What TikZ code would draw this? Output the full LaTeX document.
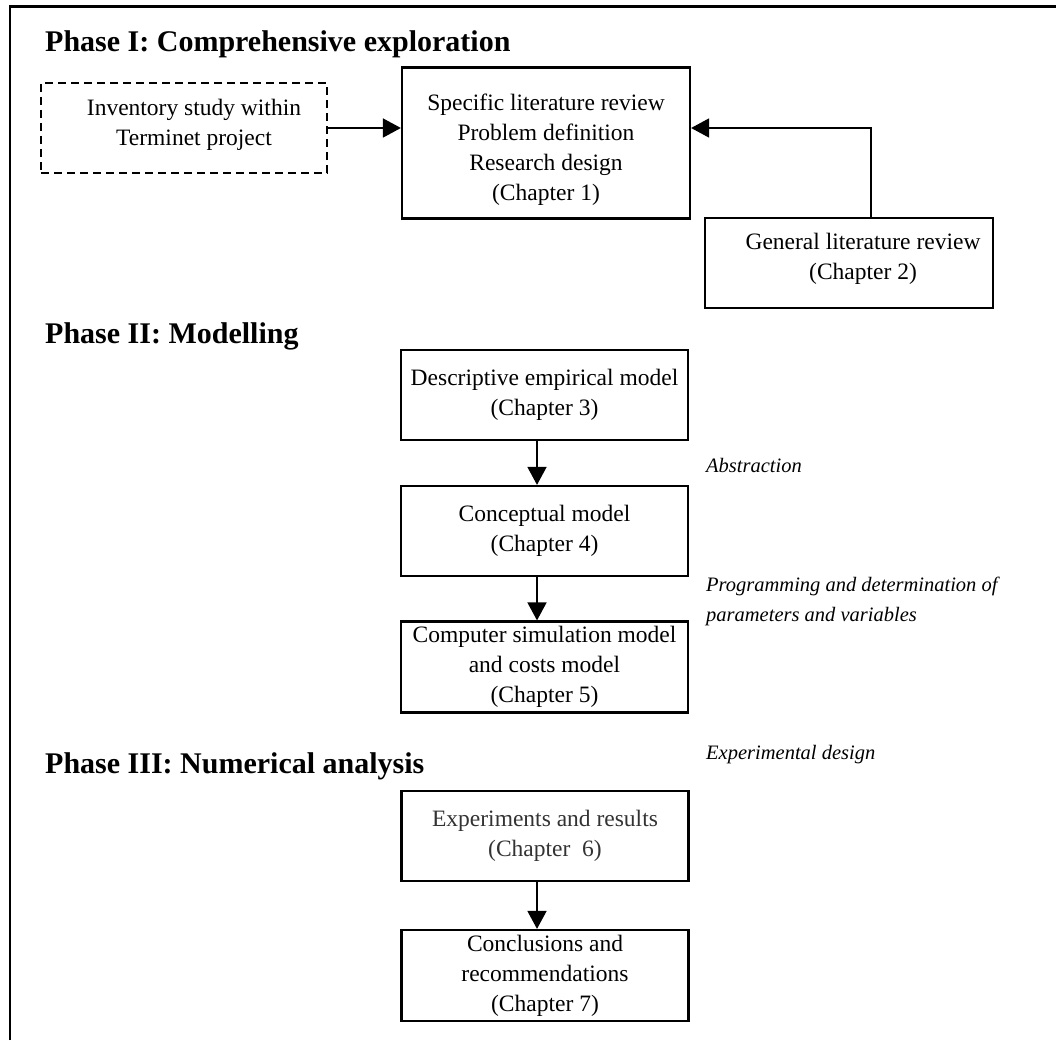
\documentclass[tikz,border=0pt]{standalone}
\usepackage{fontspec}
\setmainfont{Liberation Serif}
\usetikzlibrary{arrows.meta}
\begin{document}
\begin{tikzpicture}[x=1pt,y=-1pt,
  box/.style={draw, line width=2.2pt, minimum width=287pt, minimum height=90pt,
    inner sep=0pt, align=center, font=\fontsize{23.5}{30}\selectfont},
  boxtext/.style={inner sep=0pt, align=center, font=\fontsize{23.5}{30}\selectfont},
  phase/.style={anchor=base west, inner sep=0pt, font=\fontsize{30}{36}\selectfont\bfseries},
  note/.style={anchor=west, inner sep=0pt, align=left, font=\fontsize{20.5}{30}\selectfont\itshape},
  arr/.style={line width=1.6pt, -{Triangle[length=18pt,width=19pt]}},
]
\useasboundingbox (0,0) rectangle (1056,1040);
\fill[white] (0,0) rectangle (1056,1040);
% page frame (top and left edges)
\draw[line width=2.2pt] (10,1040) -- (10,6.5) -- (1056,6.5);

% phase headings
\node[phase] (p1) at (45,52) {Phase I: Comprehensive exploration};
\node[phase] (p2) at (45,343) {Phase II: Modelling};
\node[phase] (p3) at (45,773) {Phase III: Numerical analysis};

% Phase I boxes (frames with separately placed text)
\node[box, dashed, dash pattern=on 8pt off 5pt, minimum width=286pt] (inv) at (184,128) {};
\node[boxtext] (invt) at ([xshift=10pt,yshift=3pt]inv.center) {Inventory study within\\Terminet project};
\node[box, minimum width=288pt, minimum height=151pt] (b1) at (546,143) {};
\node[boxtext] (b1t) at ([yshift=-7pt]b1.center)
  {Specific literature review\\Problem definition\\Research design\\(Chapter 1)};
\node[box, minimum width=288pt] (b2) at (849,263) {};
\node[boxtext] (b2t) at ([xshift=14pt,yshift=4pt]b2.center) {General literature review\\(Chapter 2)};

% Phase II and III boxes
\node[box] (b3) at (544.5,395) {Descriptive empirical model\\(Chapter 3)};
\node[box] (b4) at (544.5,531) {Conceptual model\\(Chapter 4)};
\node[box, minimum height=91pt] (b5) at (544.5,667)
  {Computer simulation model\\and costs model\\(Chapter 5)};
\node[box] (b6) at (545,836) {\color{black!80}Experiments and results\\\color{black!80}(Chapter\ \ 6)};
\node[box, minimum height=91pt] (b7) at (545,975.5)
  {Conclusions and\\recommendations\\(Chapter 7)};

% side notes
\node[note] (n1) at (706,465.7) {Abstraction};
\node[note] (n2) at (706,601.7) {Programming and determination of\\parameters and variables};
\node[note] (n3) at (706,755) {Experimental design};

% connectors
\draw[arr] (inv.east) -- (inv.east -| b1.west);
\draw[arr] ([xshift=22pt]b2.north) |- (inv.east -| b1.east);
\draw[arr] ([xshift=-7.5pt]b3.south) -- ([xshift=-7.5pt]b4.north);
\draw[arr] ([xshift=-7.5pt]b4.south) -- ([xshift=-7.5pt]b5.north);
\draw[arr] ([xshift=-8pt]b6.south) -- ([xshift=-8pt]b7.north);
\end{tikzpicture}
\end{document}
